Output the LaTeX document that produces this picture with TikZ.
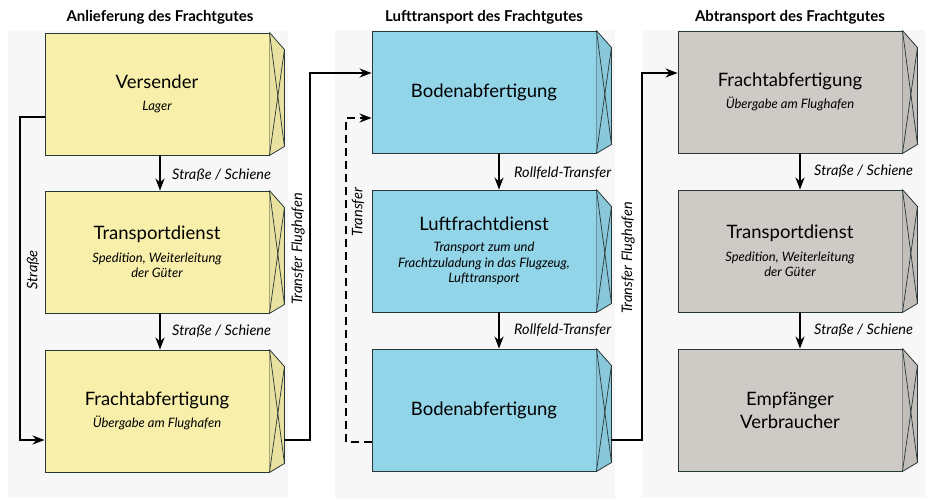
\documentclass[tikz,border=0pt]{standalone}
\usepackage{fontspec}
\setmainfont{Lato}
\usetikzlibrary{arrows.meta,calc}
\definecolor{boxyellow}{RGB}{248,239,170}
\definecolor{boxblue}{RGB}{146,212,232}
\definecolor{boxgrey}{RGB}{206,203,199}
\definecolor{edgecol}{RGB}{40,55,55}
\definecolor{panelcol}{RGB}{247,247,247}
\tikzset{
  box/.style={draw=edgecol, line width=0.9pt, minimum width=224pt, minimum height=122pt, align=center, inner sep=2pt, font=\fontsize{13}{15.5}\selectfont},
  arr/.style={line width=2.2pt, -{Stealth[length=12pt,width=9pt]}},
  lbl/.style={font=\itshape\fontsize{14.5}{17}\selectfont, inner sep=0pt},
  head/.style={font=\bfseries\fontsize{15}{18}\selectfont},
}
\newcommand{\sidefaceX}[2]{%
  \fill[#2!94!black] (#1.north east) -- ++(15,17) -- ($(#1.south east)+(15,-9)$) -- (#1.south east) -- cycle;
  \draw[edgecol, line width=0.8pt, line join=round] (#1.north east) -- ++(15,17) -- ($(#1.south east)+(15,-9)$) -- (#1.south east);
  \draw[edgecol, line width=0.7pt] (#1.north east) -- ($(#1.south east)+(15,-9)$);
  \draw[edgecol, line width=0.7pt] ($(#1.north east)+(15,17)$) -- (#1.south east);
}
\newcommand{\ttlX}[1]{{\fontsize{18.5}{22}\selectfont #1}}
\newcommand{\subt}[1]{{\itshape #1}}
\begin{document}
\begin{tikzpicture}[x=1pt,y=-1pt]
\useasboundingbox (0,0) rectangle (936,499);
\fill[white] (0,0) rectangle (936,499);
% panels
\fill[panelcol] (8,31) rectangle (288,497);
\fill[panelcol] (335,30) rectangle (615,499);
\fill[panelcol] (642,30) rectangle (925,497);
% headings
\node[head] (h1) at (160,17) {Anlieferung des Frachtgutes};
\node[head] (h2) at (484,17) {Lufttransport des Frachtgutes};
\node[head] (h3) at (790,17) {Abtransport des Frachtgutes};
% column 1
\node[box, fill=boxyellow] (b11) at (157,94) {\ttlX{Versender}\\[6pt]\subt{Lager}};
\node[box, fill=boxyellow] (b12) at (157,252) {\ttlX{Transportdienst}\\[7pt]\subt{Spedition, Weiterleitung}\\\subt{der Güter}};
\node[box, fill=boxyellow] (b13) at (157,411) {\ttlX{Frachtabfertigung}\\[6pt]\subt{Übergabe am Flughafen}};
% column 2
\node[box, fill=boxblue] (b21) at (484,92) {\ttlX{Bodenabfertigung}};
\node[box, fill=boxblue] (b22) at (484,251) {\ttlX{Luftfrachtdienst}\\[6pt]\subt{Transport zum und}\\\subt{Frachtzuladung in das Flugzeug,}\\\subt{Lufttransport}};
\node[box, fill=boxblue] (b23) at (484,410) {\ttlX{Bodenabfertigung}};
% column 3
\node[box, fill=boxgrey] (b31) at (790,92) {\ttlX{Frachtabfertigung}\\[6pt]\subt{Übergabe am Flughafen}};
\node[box, fill=boxgrey] (b32) at (790,251) {\ttlX{Transportdienst}\\[7pt]\subt{Spedition, Weiterleitung}\\\subt{der Güter}};
\node[box, fill=boxgrey] (b33) at (790,410) {\ttlX{Empfänger}\\[5pt]\ttlX{Verbraucher}};
% side faces
\sidefaceX{b11}{boxyellow}
\sidefaceX{b12}{boxyellow}
\sidefaceX{b13}{boxyellow}
\sidefaceX{b21}{boxblue}
\sidefaceX{b22}{boxblue}
\sidefaceX{b23}{boxblue}
\sidefaceX{b31}{boxgrey}
\sidefaceX{b32}{boxgrey}
\sidefaceX{b33}{boxgrey}
% vertical arrows
\draw[arr] ([xshift=3pt]b11.south) -- ([xshift=3pt]b12.north);
\draw[arr] ([xshift=3pt]b12.south) -- ([xshift=3pt]b13.north);
\draw[arr] ([xshift=15pt]b21.south) -- ([xshift=15pt]b22.north);
\draw[arr] ([xshift=15pt]b22.south) -- ([xshift=15pt]b23.north);
\draw[arr] ([xshift=10pt]b31.south) -- ([xshift=10pt]b32.north);
\draw[arr] ([xshift=10pt]b32.south) -- ([xshift=10pt]b33.north);
\node[lbl, anchor=west] (l1) at (172,175) {Straße / Schiene};
\node[lbl, anchor=west] (l2) at (172,331) {Straße / Schiene};
\node[lbl, anchor=west] (l3) at (514,173) {Rollfeld-Transfer};
\node[lbl, anchor=west] (l4) at (514,330) {Rollfeld-Transfer};
\node[lbl, anchor=west] (l5) at (814,171) {Straße / Schiene};
\node[lbl, anchor=west] (l6) at (814,330) {Straße / Schiene};
% Straße loop
\coordinate (s1) at (20,117);
\coordinate (s2) at (20,440);
\draw[arr, line join=miter] ([yshift=-23pt]b11.west) -- (s1) -- (s2) -- (s2 -| b13.west);
\node[lbl, rotate=90] (ls) at (33,270) {Straße};
% Transfer Flughafen 1
\coordinate (t1) at (310,440);
\coordinate (t2) at (310,73);
\draw[arr, line join=miter] ([xshift=15pt,yshift=-29pt]b13.east) -- (t1) -- (t2) -- (t2 -| b21.west);
\node[lbl, rotate=90] (lt1) at (298,249) {Transfer Flughafen};
% dashed Transfer
\coordinate (d1) at (346,442);
\coordinate (d2) at (346,118);
\draw[arr, dashed, dash pattern=on 8pt off 5pt, line join=miter] ([yshift=-32pt]b23.west) -- (d1) -- (d2) -- (d2 -| b21.west);
\node[lbl, rotate=90] (ld) at (358,212) {Transfer};
% Transfer Flughafen 2
\coordinate (u1) at (642,440);
\coordinate (u2) at (642,73);
\draw[arr, line join=miter] ([xshift=15pt,yshift=-30pt]b23.east) -- (u1) -- (u2) -- (u2 -| b31.west);
\node[lbl, rotate=90] (lt2) at (628,258) {Transfer Flughafen};
\end{tikzpicture}
\end{document}
